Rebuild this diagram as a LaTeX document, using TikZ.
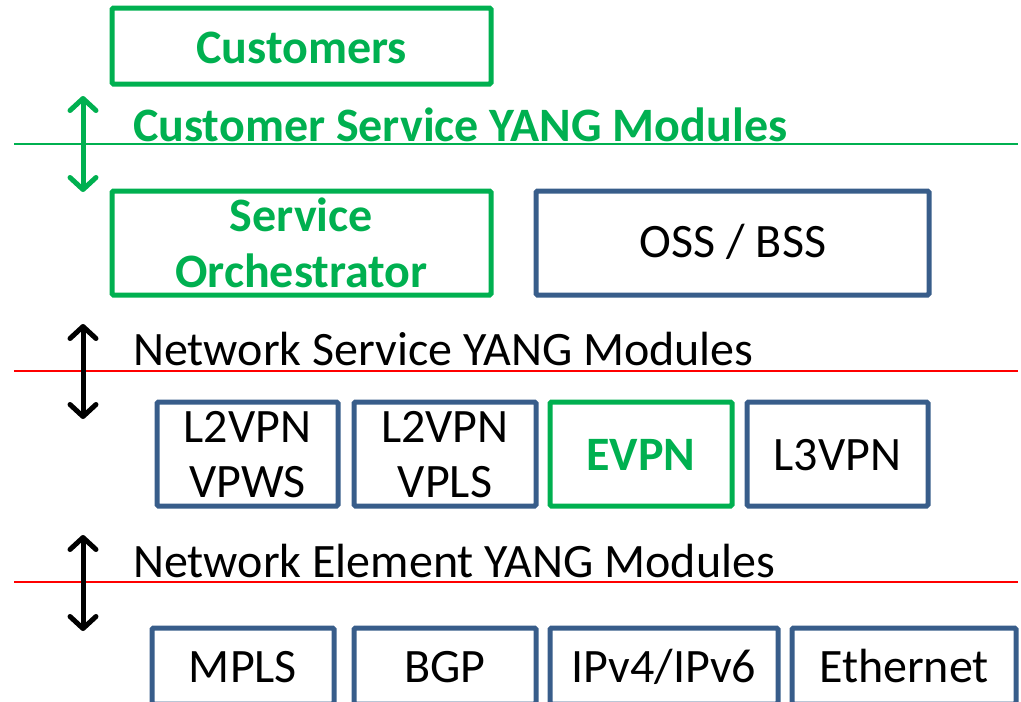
\documentclass[tikz,border=0pt]{standalone}
\usepackage{fontspec}
\setmainfont{Carlito}
\usetikzlibrary{arrows.meta}
\definecolor{xgreen}{HTML}{00B050}
\definecolor{xblue}{HTML}{385D8A}
\definecolor{xred}{HTML}{FF0000}
\begin{document}
\begin{tikzpicture}[x=1pt,y=-1pt,
  box/.style={draw=xblue,line width=5pt,rounded corners=1.5pt,anchor=north west,inner sep=0pt,outer sep=0pt},
  gbox/.style={box,draw=xgreen},
  lbl/.style={anchor=base,inner sep=0pt,font=\fontsize{48}{58}\selectfont},
  glbl/.style={lbl,text=xgreen,font=\fontsize{48}{58}\selectfont\bfseries},
  updown/.style={{Straight Barb[length=12pt,width=26pt,line cap=round,line join=round]}-{Straight Barb[length=12pt,width=26pt,line cap=round,line join=round]},line width=5pt,line cap=round},
  sep/.style={line width=2pt}
]
\useasboundingbox (0,0) rectangle (1021,702);
\clip (0,0) rectangle (1021,702);

% boxes
\node[gbox,minimum width=379pt,minimum height=76pt] (cust) at (112,8) {};
\node[gbox,minimum width=379pt,minimum height=104pt] (orch) at (112,191) {};
\node[box,minimum width=393pt,minimum height=104pt] (oss) at (536,191) {};
\node[box,minimum width=181pt,minimum height=104pt] (vpws) at (157,402) {};
\node[box,minimum width=182pt,minimum height=104pt] (vpls) at (354,402) {};
\node[gbox,minimum width=182pt,minimum height=104pt] (evpn) at (550,402) {};
\node[box,minimum width=181pt,minimum height=104pt] (l3vpn) at (747,402) {};
\node[box,minimum width=182pt,minimum height=76pt] (mpls) at (152,628) {};
\node[box,minimum width=182pt,minimum height=76pt] (bgp) at (354,628) {};
\node[box,minimum width=228pt,minimum height=76pt] (ip) at (550,628) {};
\node[box,minimum width=224pt,minimum height=76pt] (eth) at (792,628) {};

% labels in boxes
\node[glbl] (tcust) at (301.5,63) {Customers};
\node[glbl] (tserv) at (301.5,231) {Service};
\node[glbl] (torch) at (301.5,287) {Orchestrator};
\node[lbl] (toss) at (733,257) {OSS / BSS};
\node[lbl] (tl2a) at (247.5,442) {L2VPN};
\node[lbl] (tvpws) at (247.5,497) {VPWS};
\node[lbl] (tl2b) at (445,442) {L2VPN};
\node[lbl] (tvpls) at (445,497) {VPLS};
\node[glbl] (tevpn) at (641,470) {EVPN};
\node[lbl] (tl3) at (837.5,470) {L3VPN};
\node[lbl] (tmpls) at (243,682) {MPLS};
\node[lbl] (tbgp) at (445,682) {BGP};
\node[lbl] (tip) at (664,682) {IPv4/IPv6};
\node[lbl] (teth) at (904,682) {Ethernet};

% layer titles
\node[glbl,anchor=base west] (csym) at (133,141) {Customer Service YANG Modules};
\node[lbl,anchor=base west] (nsym) at (133,365) {Network Service YANG Modules};
\node[lbl,anchor=base west] (neym) at (133,577) {Network Element YANG Modules};

% separator lines
\draw[sep,xgreen] (14,144) -- (1018,144);
\draw[sep,xred] (14,371) -- (1018,371);
\draw[sep,xred] (14,582) -- (1018,582);

% arrows
\coordinate (a1t) at (83,96);
\coordinate (a1b) at (83,192);
\coordinate (a2t) at (83,324);
\coordinate (a2b) at (83,419);
\coordinate (a3t) at (83,535);
\coordinate (a3b) at (83,631);
\draw[updown,xgreen] (a1t) -- (a1b);
\draw[updown,black] (a2t) -- (a2b);
\draw[updown,black] (a3t) -- (a3b);
\end{tikzpicture}
\end{document}
